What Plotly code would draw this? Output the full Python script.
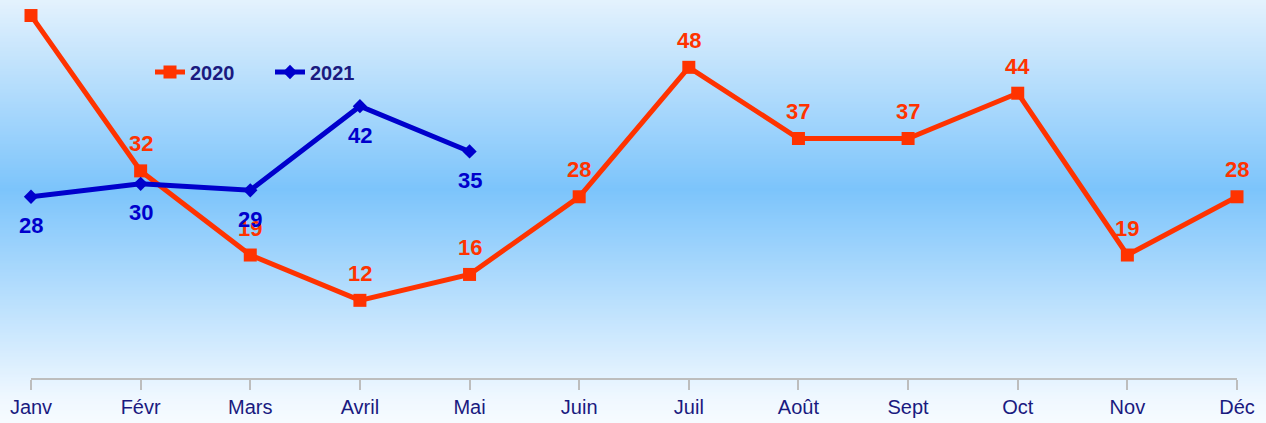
import plotly.graph_objects as go

months = ["Janv", "Févr", "Mars", "Avril", "Mai", "Juin", "Juil", "Août", "Sept", "Oct", "Nov", "Déc"]
values_2020 = [56, 32, 19, 12, 16, 28, 48, 37, 37, 44, 19, 28]
months_2021 = ["Janv", "Févr", "Mars", "Avril", "Mai"]
values_2021 = [28, 30, 29, 42, 35]

ORANGE = "#FF3300"
BLUE = "#0000CC"
NAVY = "#1A1A80"
FONT = "Liberation Sans, Arial, sans-serif"

W, H = 1266, 423
ML, MR, MT, MB = 31, 29, 0, 45
PH = H - MT - MB
YMAX = 58.4

fig = go.Figure()
fig.add_trace(go.Scatter(
    x=months, y=values_2020, name="2020", mode="lines+markers",
    line=dict(color=ORANGE, width=5),
    marker=dict(symbol="square", size=13, color=ORANGE),
    cliponaxis=False,
))
fig.add_trace(go.Scatter(
    x=months_2021, y=values_2021, name="2021", mode="lines+markers",
    line=dict(color=BLUE, width=5),
    marker=dict(symbol="diamond", size=11, color=BLUE),
    cliponaxis=False,
))

annotations = []
for m, v in zip(months, values_2020):
    # labels that would sit above the visible area are not shown (as in the reference)
    if (YMAX - v) / YMAX * PH < 27 + 8:
        continue
    annotations.append(dict(x=m, y=v, text=str(v), showarrow=False, yshift=27,
                            font=dict(family=FONT, size=22, color=ORANGE, weight="bold"),
                            xref="x", yref="y"))
for m, v in zip(months_2021, values_2021):
    annotations.append(dict(x=m, y=v, text=str(v), showarrow=False, yshift=-29,
                            font=dict(family=FONT, size=22, color=BLUE, weight="bold"),
                            xref="x", yref="y"))

# vertical gradient background built from thin stripes
stops = [(0, (228, 242, 253)), (190, (124, 196, 251)), (400, (240, 248, 255)), (423, (246, 251, 255))]
def col(py):
    for (y0, c0), (y1, c1) in zip(stops[:-1], stops[1:]):
        if y0 <= py <= y1:
            t = (py - y0) / (y1 - y0)
            return "rgb(%d,%d,%d)" % tuple(round(a + (b - a) * t) for a, b in zip(c0, c1))
    return "rgb(%d,%d,%d)" % stops[-1][1]

shapes = []
step = 3
for py in range(0, H, step):
    y0 = (MT + PH - (py + step)) / PH
    y1 = (MT + PH - py) / PH
    shapes.append(dict(type="rect", xref="paper", yref="paper",
                       x0=-0.1, x1=1.1, y0=y0 - 0.001, y1=y1 + 0.001,
                       fillcolor=col(py + step / 2), line=dict(width=0), layer="below"))

fig.update_layout(
    width=W, height=H,
    margin=dict(l=ML, r=MR, t=MT, b=MB),
    paper_bgcolor="rgb(240,248,255)",
    plot_bgcolor="rgba(0,0,0,0)",
    shapes=shapes,
    annotations=annotations,
    showlegend=True,
    legend=dict(orientation="h", x=(150 - ML) / (W - ML - MR), y=(PH - 72) / PH,
                xanchor="left", yanchor="middle", bgcolor="rgba(0,0,0,0)",
                font=dict(family=FONT, size=20, color=NAVY, weight="bold"),
                entrywidth=75),
    font=dict(family=FONT),
)
fig.update_xaxes(
    type="category", categoryorder="array", categoryarray=months,
    range=[0, 11], showline=True, linecolor="#BDBDBD", linewidth=1.5,
    ticks="outside", ticklen=10, tickcolor="#BDBDBD", tickwidth=1.5,
    showgrid=False, zeroline=False,
    tickfont=dict(family=FONT, size=20, color=NAVY),
)
fig.update_yaxes(range=[0, YMAX], visible=False, showgrid=False, zeroline=False)

fig.write_html("out.html", config={"displayModeBar": False},
               post_script="document.body.style.margin='0';document.body.style.overflow='hidden';")
